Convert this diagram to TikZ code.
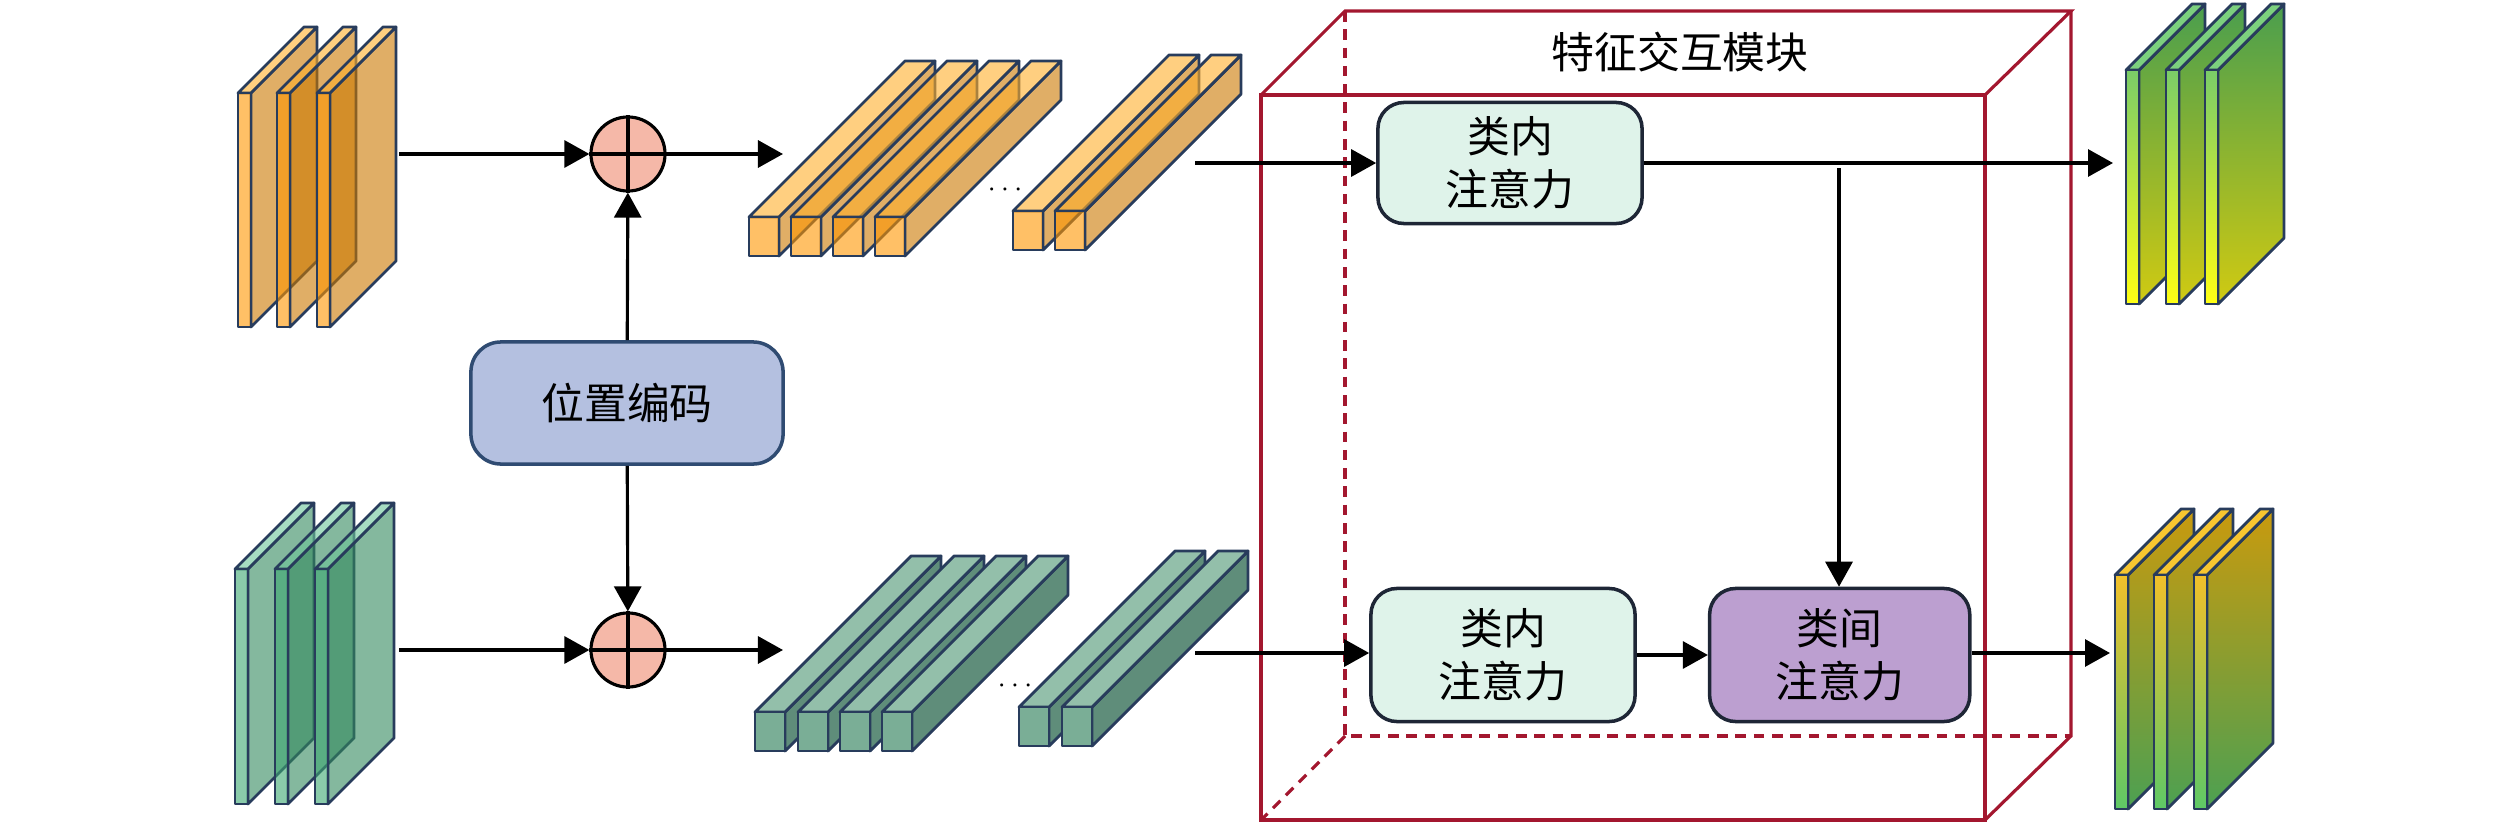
\documentclass[tikz,border=0pt]{standalone}
\usepackage{fontspec}
\setmainfont{Noto Sans CJK SC}
\usetikzlibrary{arrows.meta,positioning}
\definecolor{edge}{RGB}{40,60,92}
\definecolor{inoF}{HTML}{FF9600}
\definecolor{inoS}{HTML}{CB7800}
\definecolor{inoT}{HTML}{FFAF2B}
\definecolor{ingF}{HTML}{3CA871}
\definecolor{ingS}{HTML}{32895D}
\definecolor{ingT}{HTML}{6BC599}
\definecolor{brgF}{HTML}{7AAE96}
\definecolor{brgS}{HTML}{5F8D7A}
\definecolor{brgT}{HTML}{93BFAA}
\definecolor{outgF1}{HTML}{7ACC68}
\definecolor{outgF2}{HTML}{FFFF14}
\definecolor{outgS1}{HTML}{4A9E4E}
\definecolor{outgS2}{HTML}{D0CA12}
\definecolor{outgT}{HTML}{7CD07E}
\definecolor{outyF1}{HTML}{F2C02A}
\definecolor{outyF2}{HTML}{5EC866}
\definecolor{outyS1}{HTML}{C99A0E}
\definecolor{outyS2}{HTML}{4CA052}
\definecolor{outyT}{HTML}{F8C630}
\definecolor{addfill}{HTML}{F5B8A8}
\definecolor{posfill}{HTML}{B4C0E0}
\definecolor{posline}{HTML}{2F4B72}
\definecolor{intrafill}{HTML}{DFF3EA}
\definecolor{interfill}{HTML}{BC9FD0}
\definecolor{boxline}{HTML}{1E2636}
\definecolor{modred}{HTML}{A3172F}
\newcommand{\cjktext}{\fontsize{12.2}{15.2}\selectfont}
% one slab: front corner, width, height, depth, style prefix
\newcommand{\slab}[5]{%
  \begin{scope}[shift={#1}]
    \draw[#5side] (#2,0) -- (#2,#3) -- ({#2+#4},{#3-#4}) -- ({#2+#4},-#4) -- cycle;
    \draw[#5top] (0,0) -- (#2,0) -- ({#2+#4},-#4) -- (#4,-#4) -- cycle;
    \draw[#5front] (0,0) rectangle (#2,#3);
  \end{scope}}

\begin{document}
\begin{tikzpicture}[x=0.01cm,y=-0.01cm,
    flow/.style={-{Triangle[length=2.5mm,width=2.7mm]},line width=0.9pt},
    slabline/.style={draw=edge,line width=0.8pt,line join=round},
    inoside/.style={slabline,fill=inoS,fill opacity=0.6},
    inotop/.style={slabline,fill=inoT,fill opacity=0.6},
    inofront/.style={slabline,fill=inoF,fill opacity=0.6},
    ingside/.style={slabline,fill=ingS,fill opacity=0.6},
    ingtop/.style={slabline,fill=ingT,fill opacity=0.6},
    ingfront/.style={slabline,fill=ingF,fill opacity=0.6},
    brgside/.style={slabline,fill=brgS},
    brgtop/.style={slabline,fill=brgT},
    brgfront/.style={slabline,fill=brgF},
    outgside/.style={slabline,top color=outgS1,bottom color=outgS2},
    outgtop/.style={slabline,fill=outgT},
    outgfront/.style={slabline,top color=outgF1,bottom color=outgF2},
    outyside/.style={slabline,top color=outyS1,bottom color=outyS2},
    outytop/.style={slabline,fill=outyT},
    outyfront/.style={slabline,top color=outyF1,bottom color=outyF2},
    block/.style={draw=boxline,line width=1pt,rounded corners=2.6mm,minimum width=2.64cm,
      minimum height=1.33cm,align=center,font=\cjktext},
    add/.style={circle,draw,line width=0.9pt,fill=addfill,minimum size=0.74cm,inner sep=0pt},
    modline/.style={draw=modred,line width=0.9pt},
    hidden/.style={modline,dash pattern=on 3pt off 2.2pt}]
  \useasboundingbox (0,0) rectangle (2520,824);

  % input feature maps
  \foreach \px in {238,277,317} {\slab{(\px,93)}{13}{234}{66}{ino}}
  \foreach \px in {235,275,315} {\slab{(\px,569)}{13}{235}{66}{ing}}

  % token sequences
  \foreach \bx in {749,791,833,875} {\slab{(\bx,217)}{30}{39}{156}{ino}}
  \foreach \bx in {1013,1055} {\slab{(\bx,211)}{30}{39}{156}{ino}}
  \foreach \bx in {755,798,840,882} {\slab{(\bx,712)}{30}{39}{156}{brg}}
  \foreach \bx in {1019,1062} {\slab{(\bx,707)}{30}{39}{156}{brg}}
  \node[font=\footnotesize] (dotsA) at (1005,190) {$\cdots$};
  \node[font=\footnotesize] (dotsB) at (1015,686) {$\cdots$};

  % output feature maps
  \foreach \px in {2126,2166,2205} {\slab{(\px,70)}{13}{234}{66}{outg}}
  \foreach \px in {2115,2154,2194} {\slab{(\px,575)}{13}{234}{66}{outy}}

  % interaction module
  \draw[hidden] (1345,11) -- (1345,736) -- (2071,736);
  \draw[hidden] (1345,736) -- (1261,820);
  \draw[modline] (1261,95) rectangle (1985,820);
  \draw[modline] (1261,95) -- (1345,11) -- (2071,11) -- (1985,95);
  \draw[modline] (2071,11) -- (2071,736) -- (1985,820);
  \node[font=\cjktext] (title) at (1680,52) {特征交互模块};

  \node[draw=posline,fill=posfill,line width=1pt,rounded corners=3mm,minimum width=3.12cm,
    minimum height=1.22cm,font=\cjktext] (pos) at (627,403) {位置编码};
  \node[add] (addA) at (628,154) {};
  \node[add] (addB) at (628,650) {};
  \draw[line width=0.9pt] (addA.north) -- (addA.south) (addA.west) -- (addA.east);
  \draw[line width=0.9pt] (addB.north) -- (addB.south) (addB.west) -- (addB.east);

  \node[block,fill=intrafill,minimum height=1.21cm] (intraA) at (1510,163) {类内\\注意力};
  \node[block,fill=intrafill] (intraB) at (1503,655) {类内\\注意力};
  \node[block,fill=interfill,minimum width=2.6cm,right=0.71cm of intraB] (inter) {类间\\注意力};

  \coordinate (inA) at (399,154);
  \coordinate (inB) at (399,650);
  \coordinate (seqA) at (783,154);
  \coordinate (seqB) at (783,650);
  \coordinate (tokA) at (1195,163);
  \coordinate (tokB) at (1195,653);
  \coordinate (tap) at (1839,168);
  \coordinate (outA) at (2113,163);
  \coordinate (outB) at (2110,653);

  \draw[flow] (inA) -- (addA);
  \draw[flow] (inB) -- (addB);
  \draw[flow] (addA) -- (seqA);
  \draw[flow] (addB) -- (seqB);
  \draw[flow] (pos) -- (addA);
  \draw[flow] (pos) -- (addB);
  \draw[flow] (tokA) -- (intraA);
  \draw[flow] (tokB) -- (tokB -| intraB.west);
  \draw[flow] (intraA) -- (outA);
  \draw[flow] (tap) -- (tap |- inter.north);
  \draw[flow] (intraB) -- (inter);
  \draw[flow] (inter.east |- outB) -- (outB);
\end{tikzpicture}
\end{document}
